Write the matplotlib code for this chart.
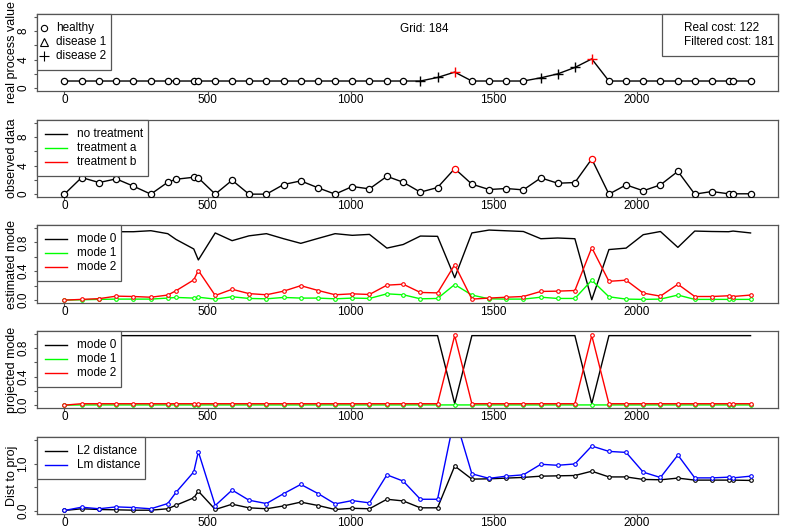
import matplotlib
matplotlib.use('Agg')
import matplotlib.pyplot as plt
from matplotlib.lines import Line2D
from matplotlib.patches import Rectangle

plt.rcParams['font.family'] = ['Liberation Sans', 'DejaVu Sans']
FS = 8.5

# observation times
times = [0, 60, 121, 181, 241, 302, 361, 390, 452, 468,
         527, 586, 645, 706, 766, 826, 887, 946, 1006, 1066,
         1127, 1184, 1244, 1304, 1364, 1424, 1484, 1544, 1604, 1665,
         1724, 1784, 1843, 1903, 1963, 2023, 2083, 2144, 2203, 2263,
         2321, 2337, 2398]

# real process (state: 0 healthy, 1 disease 1, 2 disease 2)
real_value = [1, 1, 1, 1, 1, 1, 1, 1, 1, 1,
              1, 1, 1, 1, 1, 1, 1, 1, 1, 1,
              1, 1, 1.0, 1.5, 2.25, 1, 1, 1, 1, 1.45,
              2.0, 2.9, 4.1, 1, 1, 1, 1, 1, 1, 1,
              1, 1, 1]
real_state = [0, 0, 0, 0, 0, 0, 0, 0, 0, 0,
              0, 0, 0, 0, 0, 0, 0, 0, 0, 0,
              0, 0, 2, 2, 2, 0, 0, 0, 0, 2,
              2, 2, 2, 0, 0, 0, 0, 0, 0, 0,
              0, 0, 0]
# treatment: 0 none, 1 a, 2 b
treatment = [0, 0, 0, 0, 0, 0, 0, 0, 0, 0,
             0, 0, 0, 0, 0, 0, 0, 0, 0, 0,
             0, 0, 0, 0, 2, 0, 0, 0, 0, 0,
             0, 0, 2, 0, 0, 0, 0, 0, 0, 0,
             0, 0, 0]

observed = [0, 2.33, 1.63, 2.14, 1.12, 0, 1.67, 2.09, 2.37, 2.28,
            0, 1.95, 0, 0, 1.35, 1.86, 0.88, 0, 1.07, 0.74,
            2.5, 1.67, 0.28, 0.93, 3.58, 1.4, 0.65, 0.79, 0.6, 2.28,
            1.53, 1.63, 4.93, 0, 1.3, 0.47, 1.3, 3.2, 0, 0.37,
            0.05, 0.05, 0.05]

est_mode0 = [0.998, 0.984, 0.975, 0.947, 0.947, 0.961, 0.92, 0.84, 0.708, 0.556,
             0.93, 0.823, 0.89, 0.92, 0.85, 0.786, 0.855, 0.92, 0.897, 0.91,
             0.72, 0.77, 0.887, 0.883, 0.31, 0.93, 0.97, 0.96, 0.95, 0.85,
             0.86, 0.85, 0.005, 0.70, 0.72, 0.906, 0.95, 0.73, 0.956, 0.95,
             0.947, 0.956, 0.93]
est_mode1 = [0, 0.005, 0.01, 0.014, 0.014, 0.014, 0.028, 0.037, 0.028, 0.04,
             0.014, 0.046, 0.023, 0.018, 0.037, 0.028, 0.028, 0.018, 0.028, 0.023,
             0.087, 0.074, 0.018, 0.023, 0.216, 0.07, 0.018, 0.014, 0.014, 0.04,
             0.023, 0.023, 0.276, 0.046, 0.014, 0.01, 0.014, 0.07, 0.01, 0.01,
             0.01, 0.01, 0.01]
est_mode2 = [0, 0.01, 0.02, 0.055, 0.05, 0.04, 0.07, 0.13, 0.28, 0.41,
             0.064, 0.15, 0.09, 0.074, 0.124, 0.2, 0.133, 0.074, 0.087, 0.078,
             0.207, 0.22, 0.106, 0.1, 0.49, 0.014, 0.028, 0.04, 0.05, 0.12,
             0.124, 0.133, 0.726, 0.26, 0.276, 0.097, 0.055, 0.22, 0.05, 0.05,
             0.06, 0.05, 0.07]

proj_mode0 = [1.0, 0.975, 0.975, 0.975, 0.975, 0.975, 0.975, 0.975, 0.975, 0.975,
              0.975, 0.975, 0.975, 0.975, 0.975, 0.975, 0.975, 0.975, 0.975, 0.975,
              0.975, 0.975, 0.975, 0.975, 0.02, 0.975, 0.975, 0.975, 0.975, 0.975,
              0.975, 0.975, 0.02, 0.975, 0.975, 0.975, 0.975, 0.975, 0.975, 0.975,
              0.975, 0.975, 0.975]
proj_mode1 = [0, 0.003, 0.003, 0.003, 0.003, 0.003, 0.003, 0.003, 0.003, 0.003,
              0.003, 0.003, 0.003, 0.003, 0.003, 0.003, 0.003, 0.003, 0.003, 0.003,
              0.003, 0.003, 0.003, 0.003, 0.003, 0.003, 0.003, 0.003, 0.003, 0.003,
              0.003, 0.003, 0.003, 0.003, 0.003, 0.003, 0.003, 0.003, 0.003, 0.003,
              0.003, 0.003, 0.003]
proj_mode2 = [0, 0.02, 0.02, 0.02, 0.02, 0.02, 0.02, 0.02, 0.02, 0.02,
              0.02, 0.02, 0.02, 0.02, 0.02, 0.02, 0.02, 0.02, 0.02, 0.02,
              0.02, 0.02, 0.02, 0.02, 0.977, 0.02, 0.02, 0.02, 0.02, 0.02,
              0.02, 0.02, 0.977, 0.02, 0.02, 0.02, 0.02, 0.02, 0.02, 0.02,
              0.02, 0.02, 0.02]

dist_l2 = [0.014, 0.05, 0.035, 0.028, 0.02, 0.02, 0.05, 0.125, 0.28, 0.42,
           0.035, 0.146, 0.07, 0.05, 0.11, 0.19, 0.118, 0.035, 0.06, 0.05,
           0.25, 0.215, 0.07, 0.07, 0.95, 0.674, 0.68, 0.695, 0.71, 0.736,
           0.743, 0.75, 0.84, 0.72, 0.72, 0.667, 0.66, 0.695, 0.653, 0.653,
           0.653, 0.653, 0.646]
dist_lm = [0.014, 0.083, 0.05, 0.09, 0.076, 0.05, 0.16, 0.396, 0.826, 1.25,
           0.118, 0.444, 0.23, 0.16, 0.368, 0.5625, 0.368, 0.153, 0.222, 0.174,
           0.764, 0.632, 0.25, 0.25, 2.0, 0.785, 0.69, 0.736, 0.764, 0.986,
           0.965, 0.993, 1.37, 1.257, 1.236, 0.82, 0.708, 1.18, 0.70, 0.70,
           0.715, 0.70, 0.736]

grid_text = 'Grid: 184'
cost_text = ['Real cost: 122', 'Filtered cost: 181']

GREEN = '#00ff00'
RED = '#ff0000'
BLUE = '#0000ff'
FRAME = '#555555'
state_marker = {0: 'o', 1: '^', 2: '+'}
treat_color = {0: 'black', 1: GREEN, 2: RED}

W, H = 793, 529
fig = plt.figure(figsize=(W / 100, H / 100), dpi=100)


def make_axes(top, bottom, ylim, yticks, ylabels, ylab):
    ax = fig.add_axes([37 / W, 1 - bottom / H, (778 - 37) / W, (bottom - top) / H])
    pad_x = 0.04 * (max(times) - min(times))
    ax.set_xlim(min(times) - pad_x, max(times) + pad_x)
    pad_y = 0.04 * (ylim[1] - ylim[0])
    ax.set_ylim(ylim[0] - pad_y, ylim[1] + pad_y)
    ax.set_xticks([0, 500, 1000, 1500, 2000])
    ax.set_yticks(yticks)
    ax.set_yticklabels(ylabels, rotation=90, va='center')
    for s in ax.spines.values():
        s.set_color(FRAME)
        s.set_linewidth(0.9)
    ax.tick_params(axis='x', length=2.5, pad=0, labelsize=FS, color=FRAME)
    ax.tick_params(axis='y', length=2.5, pad=3, labelsize=FS, color=FRAME)
    ax.set_ylabel(ylab, fontsize=FS + 0.5)
    ax.yaxis.set_label_coords(-0.025, 0.5)
    return ax


def r_legend(ax, labels, width, kind, styles=None, side='left'):
    # boxed legend drawn in figure pixels, like R's legend()
    pos = ax.get_position()
    top = (1 - pos.y1) * H
    left = pos.x0 * W if side == 'left' else pos.x1 * W - width
    height = 14 * (len(labels) + 1)

    def fx(px):
        return px / W

    def fy(py):
        return 1 - py / H

    fig.add_artist(Rectangle((fx(left), fy(top + height)), width / W, height / H,
                             transform=fig.transFigure, facecolor='white',
                             edgecolor=FRAME, lw=0.9, zorder=5))
    for i, lab in enumerate(labels):
        y = top + 14 * (i + 1)
        if kind == 'marker':
            fig.add_artist(Line2D([fx(left + 7)], [fy(y)], transform=fig.transFigure,
                                  ls='none', zorder=6, **styles[i]))
            tx = left + 19
        elif kind == 'line':
            fig.add_artist(Line2D([fx(left + 8), fx(left + 30)], [fy(y), fy(y)],
                                  transform=fig.transFigure, lw=1.0, zorder=6, **styles[i]))
            tx = left + 40
        else:
            tx = left + 22
        fig.text(fx(tx), fy(y), lab, ha='left', va='center', fontsize=FS, zorder=7)


# panel 1: real process
ax1 = make_axes(14, 91, (0, 10), [0, 2, 4, 6, 8, 10], ['0', '', '4', '', '8', ''],
                'real process value')
ax1.plot(times, real_value, color='black', lw=1.0, zorder=2)
for t, v, s, tr in zip(times, real_value, real_state, treatment):
    if s == 2:
        ax1.plot(t, v, marker='+', ms=7, mew=1.0, color=treat_color[tr], zorder=3)
    else:
        ax1.plot(t, v, marker=state_marker[s], ms=4.5, mew=0.9, mfc='white',
                 color=treat_color[tr], zorder=3)
ax1.text(1256, 8.3, grid_text, ha='center', va='center', fontsize=FS)
r_legend(ax1, ['healthy', 'disease 1', 'disease 2'], 74, 'marker',
         [dict(marker='o', ms=4.5, mew=0.8, mfc='none', color='black'),
          dict(marker='^', ms=5.5, mew=0.8, mfc='none', color='black'),
          dict(marker='+', ms=6.5, mew=0.8, color='black')])
r_legend(ax1, cost_text, 116, 'text', side='right')

# panel 2: observed data
ax2 = make_axes(120, 197, (0, 10), [0, 2, 4, 6, 8, 10], ['0', '', '4', '', '8', ''],
                'observed data')
ax2.plot(times, observed, color='black', lw=1.0, zorder=2)
for t, v, tr in zip(times, observed, treatment):
    ax2.plot(t, v, marker='o', ms=4.5, mew=0.9, mfc='white', color=treat_color[tr], zorder=3)
r_legend(ax2, ['no treatment', 'treatment a', 'treatment b'], 111, 'line',
         [dict(color='black'), dict(color=GREEN), dict(color=RED)])

prob_ticks = [0, 0.2, 0.4, 0.6, 0.8, 1.0]
prob_labels = ['0.0', '', '0.4', '', '0.8', '']
mode_styles = [dict(color='black'), dict(color=GREEN), dict(color=RED)]
mode_labels = ['mode 0', 'mode 1', 'mode 2']

# panel 3: estimated mode
ax3 = make_axes(225, 303, (0, 1), prob_ticks, prob_labels, 'estimated mode')
ax3.plot(times, est_mode0, color='black', lw=1.0)
ax3.plot(times, est_mode1, color=GREEN, lw=1.0, marker='o', ms=2.6, mew=0.8, mfc='white')
ax3.plot(times, est_mode2, color=RED, lw=1.0, marker='o', ms=2.6, mew=0.8, mfc='white')
r_legend(ax3, mode_labels, 84, 'line', mode_styles)

# panel 4: projected mode
ax4 = make_axes(331, 408, (0, 1), prob_ticks, prob_labels, 'projected mode')
ax4.plot(times, proj_mode0, color='black', lw=1.0)
ax4.plot(times, proj_mode1, color=GREEN, lw=1.0, marker='o', ms=2.6, mew=0.8, mfc='white')
ax4.plot(times, proj_mode2, color=RED, lw=1.0, marker='o', ms=2.6, mew=0.8, mfc='white')
r_legend(ax4, mode_labels, 84, 'line', mode_styles)

# panel 5: distance to projection
ax5 = make_axes(437, 514, (0, 1.5), [0, 0.5, 1.0, 1.5], ['0.0', '', '1.0', ''],
                'Dist to proj')
ax5.plot(times, dist_l2, color='black', lw=1.0, marker='o', ms=2.6, mew=0.8, mfc='white')
ax5.plot(times, dist_lm, color=BLUE, lw=1.0, marker='o', ms=2.6, mew=0.8, mfc='white')
r_legend(ax5, ['L2 distance', 'Lm distance'], 108, 'line',
         [dict(color='black'), dict(color=BLUE)])

fig.savefig('out.png', dpi=100)
